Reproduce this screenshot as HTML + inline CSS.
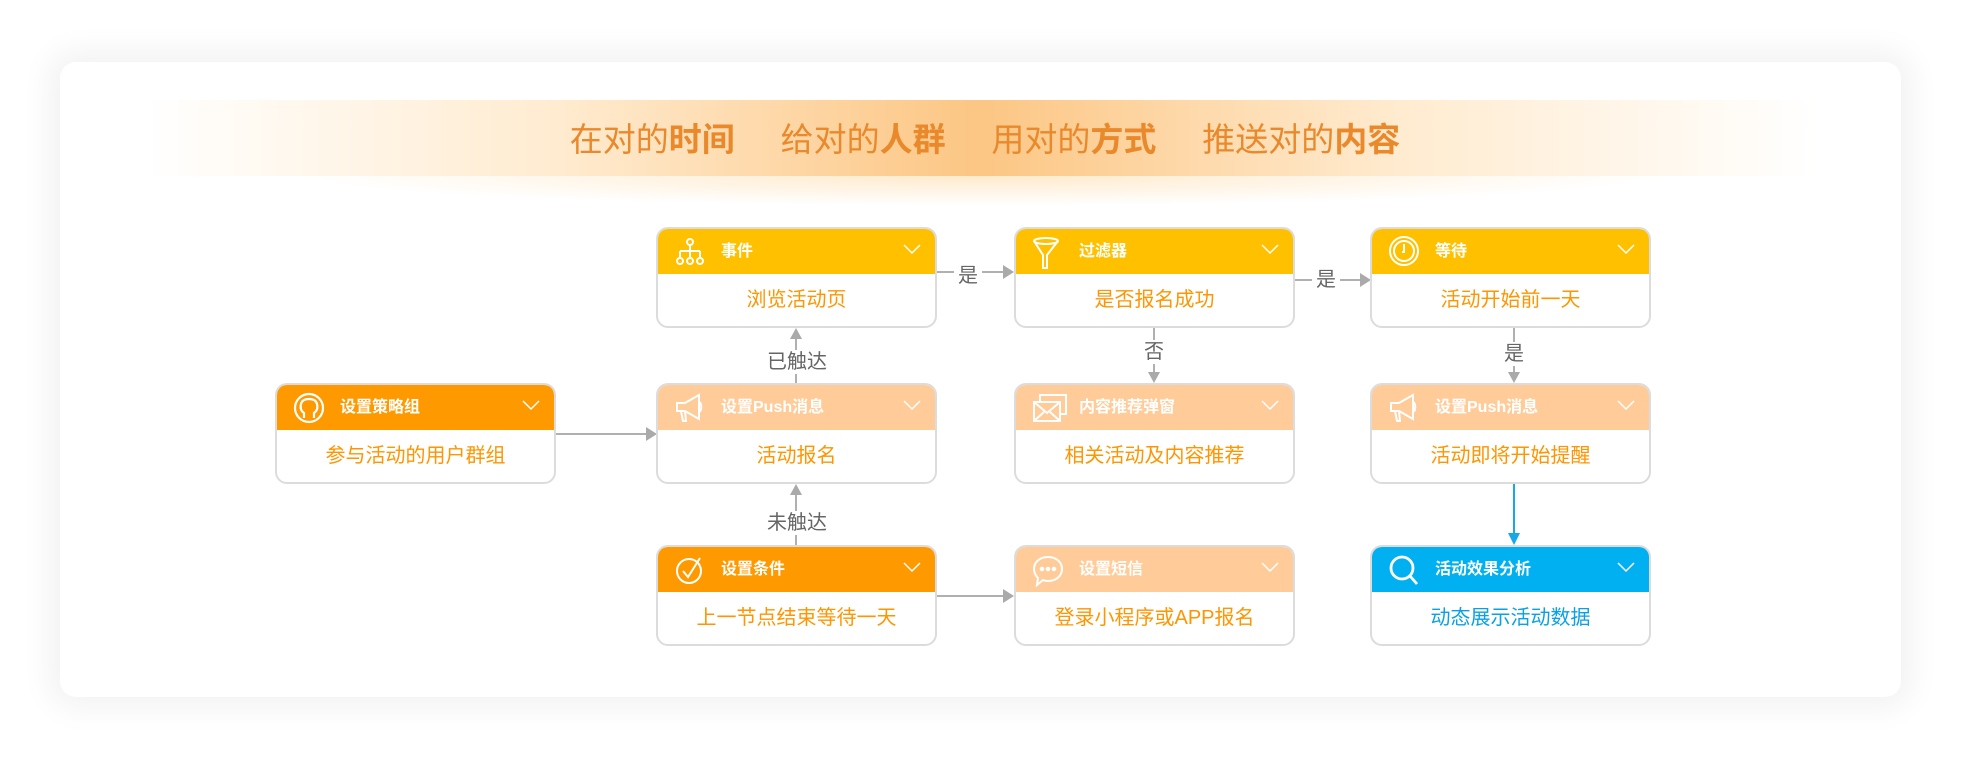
<!DOCTYPE html>
<html><head><meta charset="utf-8"><style>
*{margin:0;padding:0;box-sizing:border-box}
body{width:1970px;height:766px;background:#fff;position:relative;overflow:hidden;font-family:"Liberation Sans","Noto Sans CJK SC",sans-serif}
.card{position:absolute;left:60px;top:62px;width:1841px;height:635px;background:#fff;border-radius:16px;box-shadow:0 0 30px 12px rgba(0,0,0,0.05)}
.banner{position:absolute;left:144px;top:100px;width:1671px;height:76px;background:linear-gradient(90deg,rgba(255,200,140,0) 0%,rgba(255,215,160,0.5) 25%,rgba(252,195,125,0.95) 50%,rgba(255,215,160,0.5) 75%,rgba(255,200,140,0) 100%)}
.banner2{position:absolute;left:300px;top:176px;width:1360px;height:30px;background:radial-gradient(ellipse at 50% 0%,rgba(255,220,170,0.6),rgba(255,255,255,0) 70%)}
.title{position:absolute;left:0;width:1970px;top:113px;text-align:center;font-size:33px;color:#e9892b;white-space:pre}
.title b{font-weight:bold}
.node{position:absolute;width:281px;height:101px;border:2px solid #dcdcdc;border-radius:12px;background:#fff;overflow:hidden}
.hd{height:45px;position:relative;color:#fff;font-weight:bold;font-size:16px;line-height:45px;padding-left:63px}
.hd svg.ic{position:absolute;left:16px;top:7px}
.hd .chev{position:absolute;right:14px;top:14px}
.bd{height:54px;line-height:52px;text-align:center;color:#ff9500;font-size:20px}
.y{background:#ffc000}.o{background:#ff9900}.l{background:#ffcc99}.b{background:#00b0f0}
.ln{position:absolute;background:#b0b0b0}
.lbl{position:absolute;color:#666;font-size:20px;background:#fff;text-align:center;line-height:24px}
.ar{position:absolute;width:0;height:0}
</style></head><body>
<div class="card"></div>
<div class="banner"></div><div class="banner2"></div>
<div class="title">在对的<b>时间</b>     给对的<b>人群</b>     用对的<b>方式</b>     推送对的<b>内容</b></div>

<div class="ln" style="left:556px;top:433px;width:92px;height:2px"></div>
<div class="ar" style="left:646px;top:427px;border-left:11px solid #aaa;border-top:7px solid transparent;border-bottom:7px solid transparent"></div>

<div class="ln" style="left:795px;top:336px;width:2px;height:47px"></div>
<div class="ar" style="left:790px;top:328px;border-bottom:11px solid #aaa;border-left:6px solid transparent;border-right:6px solid transparent"></div>
<div class="lbl" style="left:760px;top:350px;width:74px">已触达</div>

<div class="ln" style="left:795px;top:492px;width:2px;height:53px"></div>
<div class="ar" style="left:790px;top:484px;border-bottom:11px solid #aaa;border-left:6px solid transparent;border-right:6px solid transparent"></div>
<div class="lbl" style="left:760px;top:511px;width:74px">未触达</div>

<div class="ln" style="left:937px;top:595px;width:69px;height:2px"></div>
<div class="ar" style="left:1003px;top:589px;border-left:11px solid #aaa;border-top:7px solid transparent;border-bottom:7px solid transparent"></div>

<div class="ln" style="left:937px;top:271px;width:69px;height:2px"></div>
<div class="ar" style="left:1003px;top:265px;border-left:11px solid #aaa;border-top:7px solid transparent;border-bottom:7px solid transparent"></div>
<div class="lbl" style="left:954px;top:264px;width:28px">是</div>

<div class="ln" style="left:1294px;top:279px;width:68px;height:2px"></div>
<div class="ar" style="left:1360px;top:273px;border-left:11px solid #aaa;border-top:7px solid transparent;border-bottom:7px solid transparent"></div>
<div class="lbl" style="left:1312px;top:268px;width:28px">是</div>

<div class="ln" style="left:1153px;top:328px;width:2px;height:47px"></div>
<div class="ar" style="left:1148px;top:372px;border-top:11px solid #aaa;border-left:6px solid transparent;border-right:6px solid transparent"></div>
<div class="lbl" style="left:1140px;top:340px;width:28px">否</div>

<div class="ln" style="left:1513px;top:328px;width:2px;height:47px"></div>
<div class="ar" style="left:1508px;top:372px;border-top:11px solid #aaa;border-left:6px solid transparent;border-right:6px solid transparent"></div>
<div class="lbl" style="left:1500px;top:342px;width:28px">是</div>

<div class="ln" style="left:1513px;top:484px;width:2px;height:52px;background:#18a8e8"></div>
<div class="ar" style="left:1508px;top:533px;border-top:12px solid #18a8e8;border-left:6px solid transparent;border-right:6px solid transparent"></div>

<div class="node" style="left:275px;top:383px"><div class="hd o"><svg class="ic" width="32" height="32" viewBox="0 0 32 32" fill="none" stroke="#fff" stroke-width="2.2"><circle cx="16" cy="16" r="14"/><path d="M11 26v-5c-3-2-4-5-3-9 1-4 4-5 8-5s7 1 8 5c1 4 0 7-3 9v5"/></svg>设置策略组<svg class="chev" width="18" height="12"><path d="M1 2l8 8 8-8" fill="none" stroke="#fff" stroke-width="1.5"/></svg></div><div class="bd">参与活动的用户群组</div></div>

<div class="node" style="left:656px;top:227px"><div class="hd y"><svg class="ic" width="32" height="32" viewBox="0 0 32 32" fill="none" stroke="#fff" stroke-width="2"><circle cx="16" cy="6" r="3"/><path d="M16 9v6M6 15h20M6 15v6M16 15v6M26 15v6"/><circle cx="6" cy="25" r="3"/><circle cx="16" cy="25" r="3"/><circle cx="26" cy="25" r="3"/></svg>事件<svg class="chev" width="18" height="12"><path d="M1 2l8 8 8-8" fill="none" stroke="#fff" stroke-width="1.5"/></svg></div><div class="bd">浏览活动页</div></div>

<div class="node" style="left:656px;top:383px"><div class="hd l"><svg class="ic" width="34" height="32" viewBox="0 0 34 32" fill="none" stroke="#fff" stroke-width="2"><path d="M3 11h8l14-8v24l-14-8H3z"/><path d="M7 19l2 10h3l-1-10"/><path d="M25 10c3 1 3 9 0 10"/></svg>设置Push消息<svg class="chev" width="18" height="12"><path d="M1 2l8 8 8-8" fill="none" stroke="#fff" stroke-width="1.5"/></svg></div><div class="bd">活动报名</div></div>

<div class="node" style="left:656px;top:545px"><div class="hd o"><svg class="ic" width="32" height="32" viewBox="0 0 32 32" fill="none" stroke="#fff" stroke-width="2"><circle cx="15" cy="17" r="12"/><path d="M9 17l5 6 12-19"/></svg>设置条件<svg class="chev" width="18" height="12"><path d="M1 2l8 8 8-8" fill="none" stroke="#fff" stroke-width="1.5"/></svg></div><div class="bd">上一节点结束等待一天</div></div>

<div class="node" style="left:1014px;top:227px"><div class="hd y"><svg class="ic" width="32" height="34" viewBox="0 0 32 34" fill="none" stroke="#fff" stroke-width="2"><ellipse cx="14" cy="5" rx="12" ry="3"/><path d="M2 5l9 14v13h4V19l11-14"/></svg>过滤器<svg class="chev" width="18" height="12"><path d="M1 2l8 8 8-8" fill="none" stroke="#fff" stroke-width="1.5"/></svg></div><div class="bd">是否报名成功</div></div>

<div class="node" style="left:1014px;top:383px"><div class="hd l"><svg class="ic" width="36" height="32" viewBox="0 0 36 32" fill="none" stroke="#fff" stroke-width="2"><rect x="2" y="10" width="26" height="19"/><path d="M2 10l13 11 13-11M2 29l10-9M28 29l-10-9"/><path d="M8 10V3h26v19h-6"/></svg>内容推荐弹窗<svg class="chev" width="18" height="12"><path d="M1 2l8 8 8-8" fill="none" stroke="#fff" stroke-width="1.5"/></svg></div><div class="bd">相关活动及内容推荐</div></div>

<div class="node" style="left:1014px;top:545px"><div class="hd l"><svg class="ic" width="34" height="34" viewBox="0 0 34 34" fill="none" stroke="#fff" stroke-width="2"><path d="M16 3c8 0 14 5 14 12s-6 12-14 12c-2 0-3 0-5-1l-6 5 1-7c-2-2-4-5-4-9 0-7 6-12 14-12z"/><circle cx="10" cy="15" r="1.3" fill="#fff"/><circle cx="16" cy="15" r="1.3" fill="#fff"/><circle cx="22" cy="15" r="1.3" fill="#fff"/></svg>设置短信<svg class="chev" width="18" height="12"><path d="M1 2l8 8 8-8" fill="none" stroke="#fff" stroke-width="1.5"/></svg></div><div class="bd">登录小程序或APP报名</div></div>

<div class="node" style="left:1370px;top:227px"><div class="hd y"><svg class="ic" width="32" height="32" viewBox="0 0 32 32" fill="none" stroke="#fff" stroke-width="2"><circle cx="16" cy="15" r="14"/><circle cx="16" cy="15" r="10"/><path d="M16 8v8h-2"/></svg>等待<svg class="chev" width="18" height="12"><path d="M1 2l8 8 8-8" fill="none" stroke="#fff" stroke-width="1.5"/></svg></div><div class="bd">活动开始前一天</div></div>

<div class="node" style="left:1370px;top:383px"><div class="hd l"><svg class="ic" width="34" height="32" viewBox="0 0 34 32" fill="none" stroke="#fff" stroke-width="2"><path d="M3 11h8l14-8v24l-14-8H3z"/><path d="M7 19l2 10h3l-1-10"/><path d="M25 10c3 1 3 9 0 10"/></svg>设置Push消息<svg class="chev" width="18" height="12"><path d="M1 2l8 8 8-8" fill="none" stroke="#fff" stroke-width="1.5"/></svg></div><div class="bd">活动即将开始提醒</div></div>

<div class="node" style="left:1370px;top:545px"><div class="hd b"><svg class="ic" width="32" height="32" viewBox="0 0 32 32" fill="none" stroke="#fff" stroke-width="2.8"><circle cx="14" cy="14" r="11"/><path d="M22 22l7 8"/></svg>活动效果分析<svg class="chev" width="18" height="12"><path d="M1 2l8 8 8-8" fill="none" stroke="#fff" stroke-width="1.5"/></svg></div><div class="bd" style="color:#0aa0e6">动态展示活动数据</div></div>
</body></html>
